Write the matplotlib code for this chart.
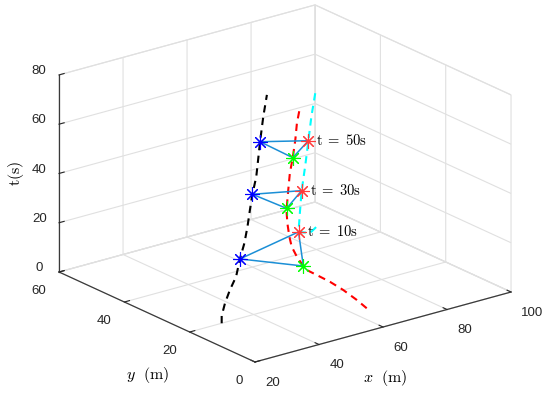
import numpy as np
import matplotlib
matplotlib.use('Agg')
import matplotlib.pyplot as plt
from mpl_toolkits.mplot3d import proj3d

plt.rcParams['font.family'] = ['Liberation Sans', 'DejaVu Sans']
plt.rcParams['mathtext.fontset'] = 'cm'

# trajectories (x, y in m, t in s)
black_x = [30.0, 30.0, 34.0, 39.0, 44.3, 50.5, 52.8, 55.2, 57.6, 59.5, 60.4, 62.0, 62.4, 63.2, 62.7]
black_y = [20.0, 20.0, 22.9, 26.3, 29.6, 34.5, 35.4, 36.8, 38.4, 39.5, 39.2, 40.1, 40.0, 39.8, 38.2]
black_t = [0, 3, 5, 6.5, 8, 10, 15, 20, 25, 30, 37, 44, 50, 60, 70]

red_x = [64.8, 64.6, 63.9, 62.7, 60.9, 59.6, 59.9, 58.7, 58.1, 58.4, 59.1, 59.8, 60.2, 60.8, 61.3, 62.0, 62.7, 63.2, 64.2]
red_y = [9.7, 12.5, 16.0, 18.9, 21.2, 23.0, 24.3, 25.1, 26.1, 27.1, 28.4, 29.3, 29.7, 29.8, 29.8, 29.6, 29.5, 29.5, 29.5]
red_t = [0, 1.7, 3.9, 5.9, 7.9, 9.3, 10, 13.7, 17.4, 20.7, 25.1, 28.4, 30, 37.2, 43.8, 50, 57, 63.6, 70]

cyan_x = [89.5, 81.6, 73.5, 71.8, 70.7, 71.4, 72.3, 72.5, 74.4]
cyan_y = [49.4, 43.5, 39.1, 37.0, 35.4, 35.0, 34.9, 34.2, 34.7]
cyan_t = [0, 4, 10, 20, 30, 40, 50, 60, 70]

# formation snapshots
snap_t = [10, 30, 50]
blue_xy = [(50.5, 34.5), (59.5, 39.5), (62.4, 40.0)]
green_xy = [(59.9, 24.3), (60.2, 29.7), (62.0, 29.6)]
red_xy = [(73.5, 39.1), (70.7, 35.4), (72.3, 34.9)]
snap_labels = [r'$\mathrm{t\;=\;10s}$', r'$\mathrm{t\;=\;30s}$', r'$\mathrm{t\;=\;50s}$']

W, H = 550, 394
fig = plt.figure(figsize=(W / 100, H / 100), dpi=100)
ax = fig.add_axes([0, 0, 1, 1], projection='3d', computed_zorder=False)
ax.set_proj_type('ortho')
ax.view_init(elev=20.75, azim=-127.65)
ax.set_box_aspect((1.008, 1, 0.657))

dash = (0, (3.5, 2.6))
ax.plot(black_x, black_y, black_t, color='k', lw=1.5, ls=dash, zorder=2)
ax.plot(red_x, red_y, red_t, color='#ff0000', lw=1.5, ls=dash, zorder=2)
ax.plot(cyan_x, cyan_y, cyan_t, color='#00ffff', lw=1.5, ls=dash, zorder=2)

star = (8, 2, 0)
for i, t in enumerate(snap_t):
    px = [blue_xy[i][0], green_xy[i][0], red_xy[i][0], blue_xy[i][0]]
    py = [blue_xy[i][1], green_xy[i][1], red_xy[i][1], blue_xy[i][1]]
    ax.plot(px, py, [t] * 4, color='#1b8fd6', lw=1.1, zorder=3)
    ax.plot([blue_xy[i][0]], [blue_xy[i][1]], [t], ls='none', marker=star, ms=10.5, mew=0.8, color='#0000ff', zorder=4)
    ax.plot([green_xy[i][0]], [green_xy[i][1]], [t], ls='none', marker=star, ms=10.5, mew=0.8, color='#00ff00', zorder=4)
    ax.plot([red_xy[i][0]], [red_xy[i][1]], [t], ls='none', marker=star, ms=10.5, mew=0.8, color='#ff3b3b', zorder=4)
    ax.text(red_xy[i][0], red_xy[i][1], t, '  ' + snap_labels[i], fontsize=10.5,
            ha='left', va='center', zorder=5)

ax.set_xlim(20, 100)
ax.set_ylim(0, 60)
ax.set_zlim(0, 80)
ax.set_xticks([20, 40, 60, 80, 100])
ax.set_yticks([0, 20, 40, 60])
ax.set_zticks([0, 20, 40, 60, 80])

for axis in (ax.xaxis, ax.yaxis, ax.zaxis):
    axis.set_pane_color((1, 1, 1, 1))
    axis.pane.set_edgecolor('#e0e0e0')
    axis.pane.set_linewidth(0.8)
    axis._axinfo['grid'].update(color='#e0e0e0', linewidth=0.8)
    axis._axinfo['tick']['inward_factor'] = 0.0
    axis._axinfo['tick']['outward_factor'] = 0.25
    axis.line.set_color('#3a3a3a')
    axis.line.set_linewidth(0.9)
    axis.offsetText.set_visible(False)
    axis.label.set_visible(False)
for ttl in (ax.title, ax._left_title, ax._right_title):
    ttl.set_visible(False)
ax.tick_params(axis='x', labelsize=9.5, colors='#262626', width=0.8, pad=1.5)
ax.tick_params(axis='y', labelsize=9.5, colors='#262626', width=0.8, pad=1)
ax.tick_params(axis='z', labelsize=9.5, colors='#262626', width=0.8, pad=0)
for lab in ax.get_xticklabels():
    lab.set_ha('left')
for lab in ax.get_yticklabels():
    lab.set_ha('right')
for lab in ax.get_zticklabels():
    lab.set_va('baseline')

# axis titles, in the spots MATLAB put them
fig.text(148 / W, 1 - 375 / H, r'$y\ \ (\mathrm{m})$', fontsize=11.5, ha='center', va='center')
fig.text(385 / W, 1 - 378 / H, r'$x\ \ (\mathrm{m})$', fontsize=11.5, ha='center', va='center')
fig.text(16 / W, 1 - 173 / H, r'$\mathrm{t(s)}$', fontsize=11.5, ha='center', va='center', rotation=90)

# place the box so its corners land where the reference has them
fig.canvas.draw()
corners = np.array([[20, 0, 0], [100, 0, 0], [20, 60, 0]], float)
X, Y, _ = proj3d.proj_transform(corners[:, 0], corners[:, 1], corners[:, 2], ax.get_proj())
cur = ax.transData.transform(np.column_stack([X, Y]))
want = np.array([[255, H - 362], [511, H - 292], [59, H - 272]], float)
bb = ax.bbox
c0 = np.array([(bb.x0 + bb.x1) / 2, (bb.y0 + bb.y1) / 2])
s0 = bb.width
scale = (want[1, 0] - want[2, 0]) / (cur[1, 0] - cur[2, 0])
s1 = s0 * scale
u = (cur[0] - c0) / s0
c1 = want[0] - s1 * u
ax.set_position([(c1[0] - s1 / 2) / W, (c1[1] - s1 / 2) / H, s1 / W, s1 / H])

fig.savefig('out.png', dpi=100)
